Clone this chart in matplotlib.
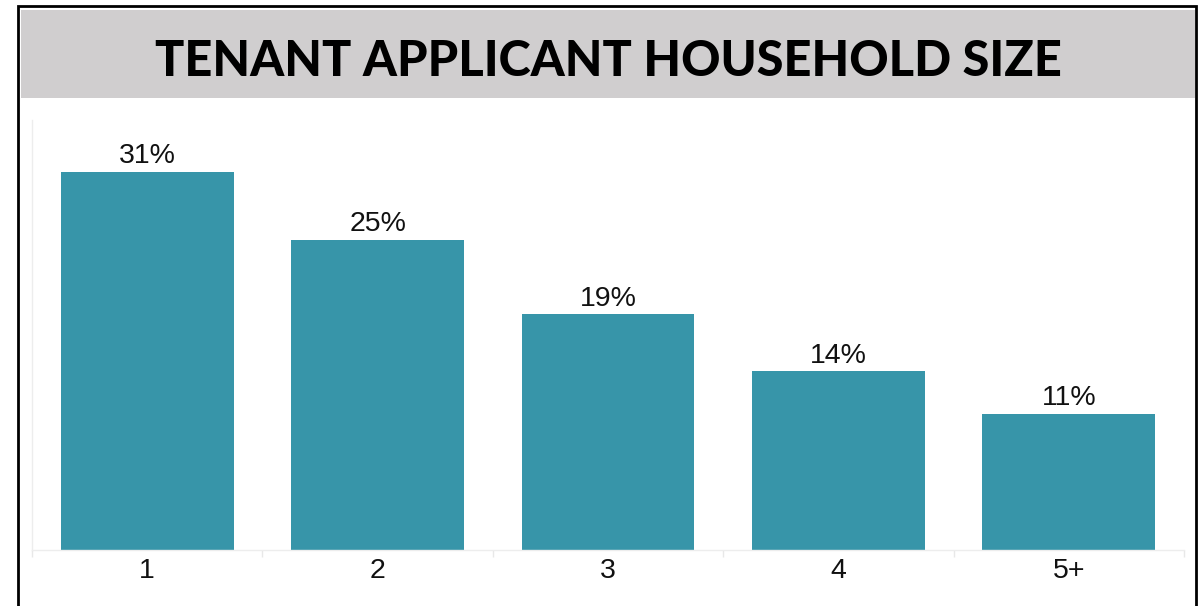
import matplotlib
matplotlib.use("Agg")
import matplotlib.pyplot as plt
from matplotlib.patches import Rectangle

categories = ["1", "2", "3", "4", "5+"]
values = [30.5, 25.0, 19.0, 14.4, 11.0]
labels = ["31%", "25%", "19%", "14%", "11%"]
title = "TENANT APPLICANT HOUSEHOLD SIZE"

W, H = 1204, 606
fig = plt.figure(figsize=(W / 100, H / 100), dpi=100)
fig.patch.set_facecolor("white")

def fx(px):
    return px / W

def fy(py):
    return 1 - py / H

# outer black border
fig.patches.append(Rectangle((fx(18), fy(640)), fx(1196) - fx(18), fy(6) - fy(640),
                             transform=fig.transFigure, fill=False, edgecolor="black",
                             linewidth=2.0, zorder=5))
# gray title band
fig.patches.append(Rectangle((fx(21), fy(98)), fx(1195) - fx(21), fy(10) - fy(98),
                             transform=fig.transFigure, facecolor="#D0CECF",
                             edgecolor="none", zorder=1))

t = fig.text(fx(608), fy(62), title, ha="center", va="center",
             fontsize=34, fontweight="black", family=["Lato", "DejaVu Sans"],
             color="black", zorder=6)
fig.canvas.draw()
bb = t.get_window_extent()
t.set_fontsize(34 * 907 / bb.width)

ax = fig.add_axes([fx(32), fy(550), fx(1184) - fx(32), fy(120) - fy(550)])
x = list(range(len(categories)))
bars = ax.bar(x, values, width=0.75, color="#3795A9", zorder=2)
ax.set_xlim(-0.5, len(categories) - 0.5)
ax.set_ylim(0, 430 / 12.4)

for xi, v, lab in zip(x, values, labels):
    ax.annotate(lab, (xi, v), xytext=(0, 2), textcoords="offset points",
                ha="center", va="bottom", fontsize=20.5,
                family=["Liberation Sans", "DejaVu Sans"], color="#111111")

ax.set_xticks(x)
ax.set_xticklabels(categories, fontsize=20.5, family="Liberation Sans", color="#111111")
ax.set_xticks([i - 0.5 for i in range(len(categories) + 1)], minor=True)
ax.tick_params(axis="x", which="major", length=0, pad=6)
ax.tick_params(axis="x", which="minor", length=5, color="#E8E8E8", width=1)
ax.set_yticks([])
for s in ["top", "right"]:
    ax.spines[s].set_visible(False)
ax.spines["left"].set_color("#EDEDED")
ax.spines["bottom"].set_color("#EDEDED")
ax.spines["left"].set_linewidth(1)
ax.spines["bottom"].set_linewidth(1)

fig.savefig("out.png", dpi=100)
